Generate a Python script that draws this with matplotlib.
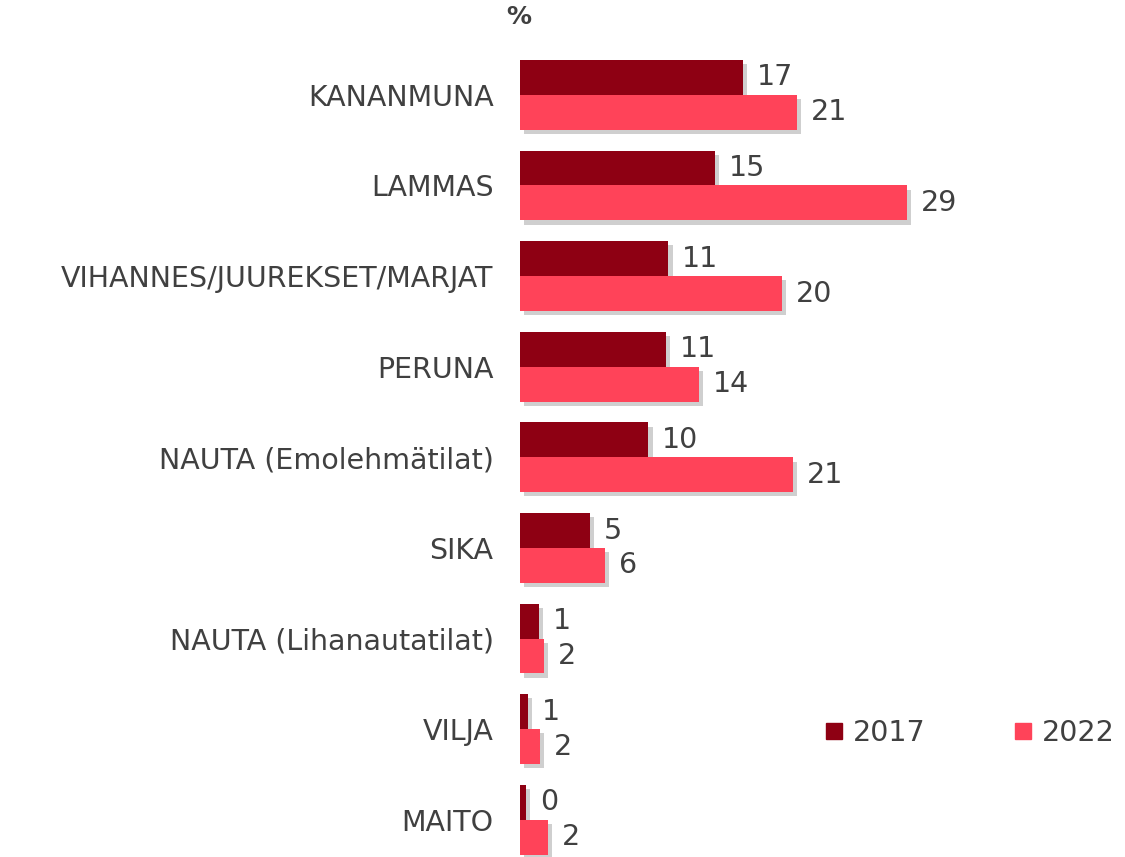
import matplotlib
matplotlib.use("Agg")
import matplotlib.pyplot as plt
import matplotlib.patheffects as pe
from matplotlib.lines import Line2D
import numpy as np

categories = ["KANANMUNA", "LAMMAS", "VIHANNES/JUUREKSET/MARJAT", "PERUNA",
              "NAUTA (Emolehmätilat)", "SIKA", "NAUTA (Lihanautatilat)", "VILJA", "MAITO"]
values_2017 = [16.8, 14.7, 11.2, 11.0, 9.7, 5.3, 1.4, 0.6, 0.45]
values_2022 = [20.9, 29.2, 19.8, 13.5, 20.6, 6.4, 1.8, 1.5, 2.1]
series_names = ["2017", "2022"]
colors = ["#8E0013", "#FF4359"]
text_color = "#404040"

fig = plt.figure(figsize=(11.25, 8.57), dpi=100)
ax = fig.add_axes([520/1125, 0.0, (1116-520)/1125, (857-50)/857])

y = np.arange(len(categories))
h = 0.385
shadow = [pe.SimplePatchShadow(offset=(3, -3), shadow_rgbFace="#888888", alpha=0.4), pe.Normal()]
b1 = ax.barh(y - h/2, values_2017, height=h, color=colors[0], path_effects=shadow, zorder=3)
b2 = ax.barh(y + h/2, values_2022, height=h, color=colors[1], path_effects=shadow, zorder=3)

fs = 20.5
for bars, vals in ((b1, values_2017), (b2, values_2022)):
    for rect, v in zip(bars, vals):
        ax.annotate(f"{round(v):d}", xy=(rect.get_width(), rect.get_y() + rect.get_height()/2),
                    xytext=(10, 0), textcoords="offset points", ha="left", va="center",
                    fontsize=fs, color=text_color)

ax.set_xlim(0, 45)
ax.set_ylim(8.41, -0.495)
ax.set_yticks(y)
ax.set_yticklabels(categories, fontsize=fs, color=text_color)
ax.tick_params(axis="y", length=0, pad=19)
ax.set_xticks([])
for s in ax.spines.values():
    s.set_visible(False)

fig.text(519/1125, 1 - 17/857, "%", fontsize=18, fontweight="bold", color=text_color,
         ha="center", va="center")

handles = [Line2D([], [], marker="s", linestyle="none", markersize=11, color=c) for c in colors]
fig.legend(handles, series_names, loc="center left", bbox_to_anchor=(807/1125, 1 - 733/857),
           ncol=2, frameon=False, fontsize=fs, handletextpad=0.1, columnspacing=2.9,
           handlelength=1.1, labelcolor=text_color, borderaxespad=0)

fig.savefig("out.png", dpi=100)
